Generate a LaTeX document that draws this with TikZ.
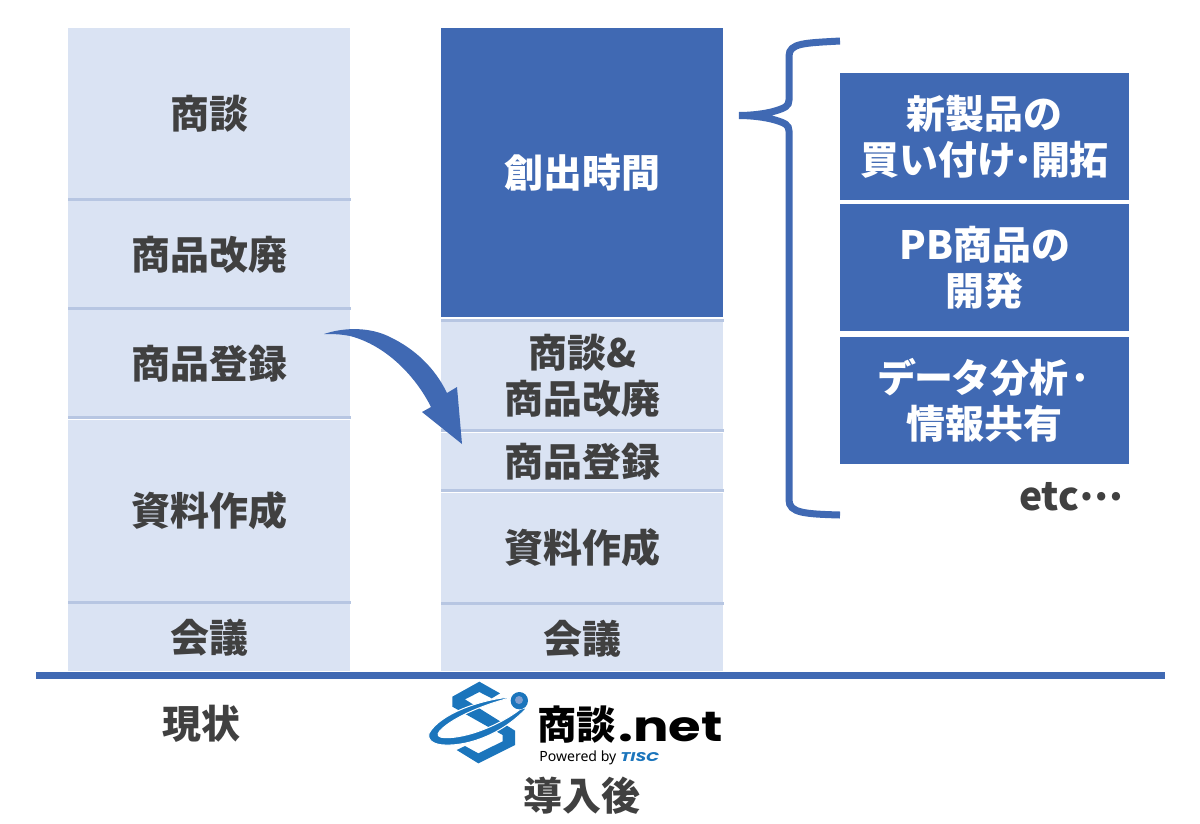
\documentclass[tikz,border=0pt]{standalone}
\usepackage{fontspec}
\setmainfont{Noto Sans CJK JP}
\newfontfamily\latinfont{Noto Sans}
\newfontfamily\logofont{Poppins}
\definecolor{paleblue}{HTML}{DAE3F3}
\definecolor{bandblue}{HTML}{B7C6E2}
\definecolor{deepblue}{HTML}{4069B3}
\definecolor{logoblue}{HTML}{1B75BC}
\definecolor{logoball}{HTML}{7F9FD0}
\definecolor{inktext}{HTML}{404040}
\tikzset{
  label text/.style={font=\fontsize{27.7}{32.7}\selectfont\bfseries,text=inktext,align=center,inner sep=0pt},
  block/.style={label text,anchor=north west,minimum width=7.05cm,fill=paleblue},
  deepblock/.style={block,fill=deepblue,text=white},
  sideblock/.style={deepblock,minimum width=7.225cm,minimum height=3.175cm},
  band/.style={draw=bandblue,line width=0.075cm},
}
\begin{document}
\begin{tikzpicture}[x=0.025cm,y=-0.025cm]
\useasboundingbox (0,0) rectangle (1200,823);
% current column
\node[block,minimum height=4.275cm] (old1) at (68,28) {商談};
\node[block,minimum height=2.6625cm] (old2) at (68,201) {商品改廃};
\node[block,minimum height=2.675cm] (old3) at (68,310) {商品登録};
\node[block,minimum height=4.5375cm] (old4) at (68,420) {資料作成};
\node[block,minimum height=1.675cm] (old5) at (68,604) {会議};
\draw[band] (old1.south west) -- (old1.south east);
\draw[band] (old2.south west) -- (old2.south east);
\draw[band] (old3.south west) -- (old3.south east);
\draw[band] (old4.south west) -- (old4.south east);
% column after introduction
\node[deepblock,minimum height=7.225cm] (new1) at (441,28) {創出時間};
\node[block,minimum height=2.7cm] (new2) at (441,322) {商談\&\\商品改廃};
\node[block,minimum height=1.425cm] (new3) at (441,433) {商品登録};
\node[block,minimum height=2.7375cm] (new4) at (441,493) {資料作成};
\node[block,minimum height=1.65cm] (new5) at (441,605) {会議};
\draw[band] ([yshift=-0.0625cm]new1.south west) -- ([yshift=-0.0625cm]new1.south east);
\draw[band] (new2.south west) -- (new2.south east);
\draw[band] (new3.south west) -- (new3.south east);
\draw[band] (new4.south west) -- (new4.south east);
% right hand list
\node[sideblock] (side1) at (840,73) {新製品の\\買い付け\kern-0.12em·\kern-0.12em開拓};
\node[sideblock] (side2) at (840,203.5) {PB商品の\\開発};
\node[sideblock] (side3) at (840,336.5) {デ\kern-0.04emー\kern-0.04emタ分析·\\情報共有};
\node[label text] (etc) at (1071,497) {etc\raisebox{0.27em}{…}};
\coordinate (bracetip) at (739,115.5);
\coordinate (bracetop) at (840,41);
\coordinate (bracebot) at (840,515);
\draw[deepblue,line width=0.175cm] (bracetop) .. controls (805,43) and (789,43) .. (789,56)
  -- (789,100) .. controls (789,106) and (785,108) .. (775,111)
  .. controls (765,114) and (750,115.5) .. (bracetip)
  .. controls (750,115.5) and (765,117) .. (775,120)
  .. controls (785,123) and (789,125) .. (789,131)
  -- (789,500) .. controls (789,513) and (805,514) .. (bracebot);
% moving arrow
\fill[deepblue] (324,334) .. controls (345,327) and (370,327) .. (390,337)
  .. controls (415,349) and (435,368) .. (447,393) -- (457,387) -- (462,444)
  -- (422,412) -- (431,407) .. controls (415,375) and (385,345) .. (350,336)
  .. controls (340,334) and (332,334) .. (324,334) -- cycle;
% base line
\coordinate (baseL) at (36,675);
\coordinate (baseR) at (1165,675);
\draw[deepblue,line width=0.175cm] (baseL) -- (baseR);
\node[label text] (nowlabel) at (201,724) {現状};
\node[label text] (afterlabel) at (582,796) {導入後};
% logo
\begin{scope}[shift={(420,670)},x=0.00833cm,y=-0.00833cm]
\fill[logoblue] (178,35) -- (240,70) -- (215,85) -- (178,66) -- (135,88) -- (285,182)
  -- (285,225) -- (175,280) -- (110,240) -- (135,228) -- (175,250) -- (248,214)
  -- (248,195) -- (97,110) -- (97,80) -- cycle;
\filldraw[logoblue,draw=white,line width=0.025cm] (285,80) .. controls (190,85) and (60,130) .. (27,190)
  .. controls (20,215) and (50,225) .. (75,225)
  .. controls (150,228) and (250,190) .. (322,112) -- (300,118)
  .. controls (240,165) and (140,205) .. (75,203)
  .. controls (55,203) and (48,195) .. (60,182)
  .. controls (100,140) and (200,100) .. (285,80) -- cycle;
\fill[logoblue] (298,92) circle (26);
\fill[logoball] (297,90) circle (12);
\node[font=\fontsize{28}{28}\selectfont\bfseries,text=black,inner sep=0pt] (logoname) at (470,163) {商談};
\node[font=\logofont\fontsize{30}{30}\selectfont\bfseries,text=black,inner sep=0pt,xscale=1.25] (logonet) at (752,172) {.net};
\node[font=\latinfont\fontsize{10}{11}\selectfont,text=black,inner sep=0pt,anchor=west] (powered) at (357,262) {Powered by};
\node[font=\logofont\fontsize{9}{10}\selectfont\bfseries\itshape,text=logoblue,inner sep=0pt,anchor=west,xscale=1.35] (tisc) at (600,260) {TISC};
\end{scope}
\end{tikzpicture}
\end{document}
